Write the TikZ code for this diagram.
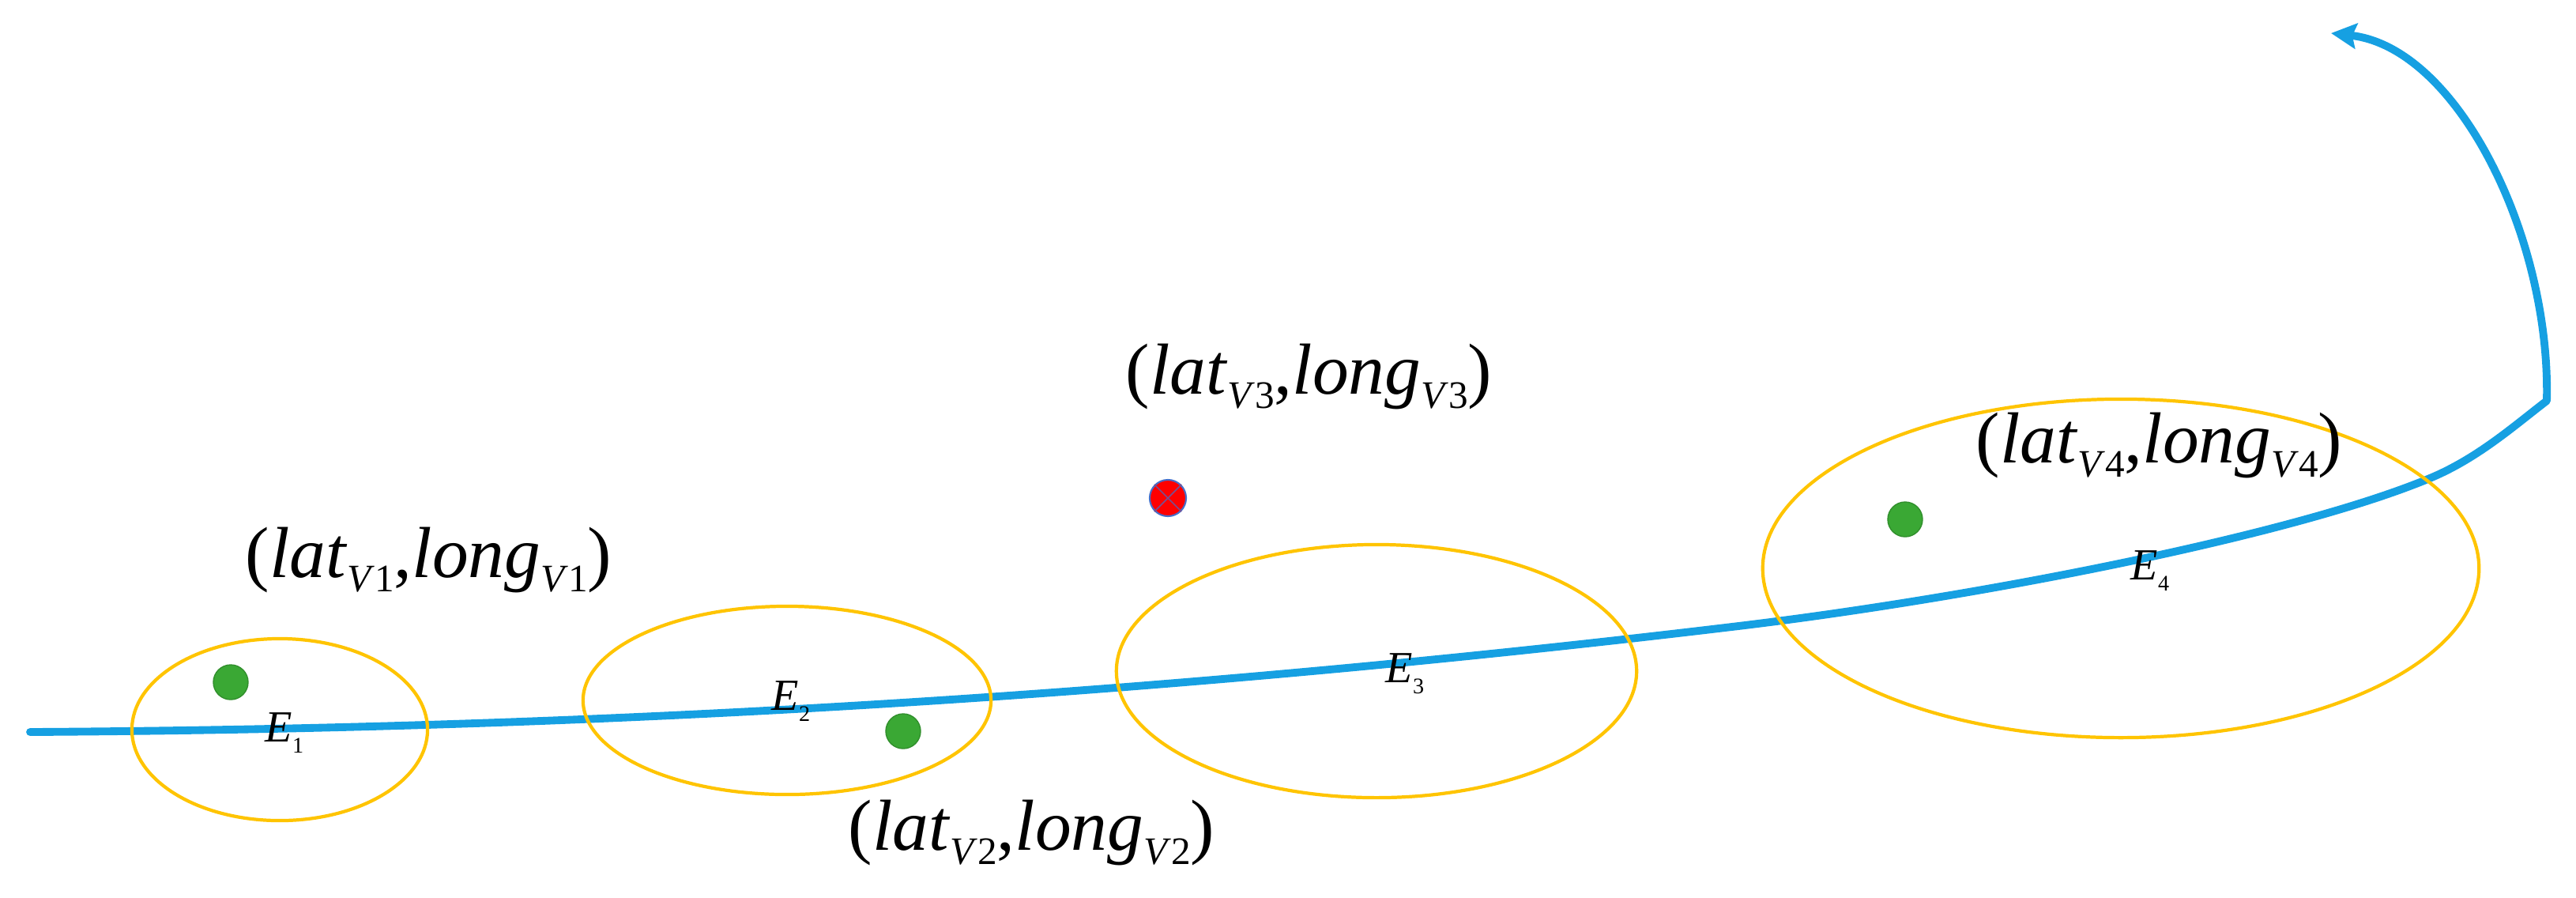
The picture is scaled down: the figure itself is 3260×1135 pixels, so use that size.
\documentclass[tikz,border=0pt]{standalone}
\usepackage{fontspec}
\setmainfont{Liberation Serif}
\usetikzlibrary{arrows.meta,shapes.geometric}
\definecolor{trajblue}{RGB}{22,160,226}
\definecolor{ellyellow}{RGB}{255,196,0}
\definecolor{dotgreen}{RGB}{58,168,52}
\definecolor{xblue}{RGB}{70,110,200}
\newcommand{\vsub}[1]{\raisebox{-5.2pt}{\fontsize{14}{14}\selectfont #1}}
\newcommand{\esub}[1]{\raisebox{-4.2pt}{\fontsize{8}{8}\selectfont #1}}
\newcommand{\coordlabel}[1]{(\textit{lat}\vsub{\textit{V}#1},\textit{long}\vsub{\textit{V}#1})}
\begin{document}
\begin{tikzpicture}[x=0.01cm,y=-0.01cm,
  traj/.style={draw=trajblue,line width=2.8pt,line cap=round,line join=round},
  region/.style={ellipse,draw=ellyellow,line width=1.2pt,inner sep=0pt},
  vehicle/.style={circle,fill=dotgreen,draw=dotgreen!85!black,line width=0.4pt,minimum size=0.44cm,inner sep=0pt},
  target/.style={circle,fill=red,draw=xblue,line width=0.6pt,minimum size=0.46cm,inner sep=0pt},
  coordtext/.style={font=\fontsize{26}{30}\selectfont,inner sep=0pt,anchor=base west},
  elabel/.style={font=\fontsize{16}{18}\selectfont,inner sep=0pt,anchor=base west}]
\useasboundingbox (0,0) rectangle (3260,1135);

% trajectory
\coordinate (tstart) at (38,926);
\coordinate (tend) at (2950,42);
\draw[traj,-{Stealth[length=0.32cm,width=0.32cm,inset=0.05cm]}] (tstart)
  .. controls (700,922) and (1400,888) .. (2200,792)
  .. controls (2500,756) and (2900,678) .. (3075,605)
  .. controls (3135,580) and (3180,540) .. (3223,507)
  .. controls (3228,300) and (3110,60) .. (tend);

% uncertainty regions
\node[region,minimum width=3.74cm,minimum height=2.30cm] (e1) at (354,923) {};
\node[region,minimum width=5.16cm,minimum height=2.38cm] (e2) at (996,886) {};
\node[region,minimum width=6.58cm,minimum height=3.20cm] (e3) at (1742,849) {};
\node[region,minimum width=9.06cm,minimum height=4.28cm] (e4) at (2684,719) {};

% region labels
\node[elabel] (l1) at (335,938) {\textit{E}\esub{1}};
\node[elabel] (l2) at (976,898) {\textit{E}\esub{2}};
\node[elabel] (l3) at (1753,863) {\textit{E}\esub{3}};
\node[elabel] (l4) at (2696,733) {\textit{E}\esub{4}};

% vehicles
\node[vehicle] (v1) at (292,863) {};
\node[vehicle] (v2) at (1143,925) {};
\node[vehicle] (v4) at (2411,657) {};
\node[target] (v3) at (1478,630) {};
\draw[xblue!70!red,line width=0.5pt] (v3.north west) -- (v3.south east) (v3.north east) -- (v3.south west);

% coordinate labels
\node[coordtext] (c1) at (310,730) {\coordlabel{1}};
\node[coordtext] (c2) at (1073,1075) {\coordlabel{2}};
\node[coordtext] (c3) at (1424,498) {\coordlabel{3}};
\node[coordtext] (c4) at (2500,585) {\coordlabel{4}};
\end{tikzpicture}
\end{document}
